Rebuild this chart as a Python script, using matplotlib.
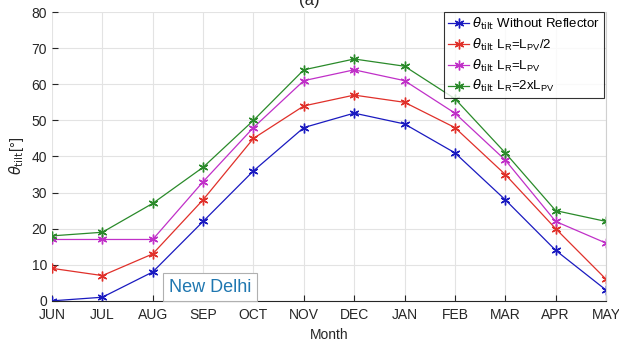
import matplotlib
matplotlib.use("Agg")
import matplotlib.pyplot as plt

months = ["JUN", "JUL", "AUG", "SEP", "OCT", "NOV", "DEC", "JAN", "FEB", "MAR", "APR", "MAY"]
without_reflector = [0, 1, 8, 22, 36, 48, 52, 49, 41, 28, 14, 3]
lr_half = [9, 7, 13, 28, 45, 54, 57, 55, 48, 35, 20, 6]
lr_equal = [17, 17, 17, 33, 48, 61, 64, 61, 52, 39, 22, 16]
lr_double = [18, 19, 27, 37, 50, 64, 67, 65, 56, 41, 25, 22]
yticks = [0, 10, 20, 30, 40, 50, 60, 70, 80]

plt.rcParams['font.family'] = ['Liberation Sans', 'DejaVu Sans']
plt.rcParams['mathtext.fontset'] = 'dejavusans'

fig = plt.figure(figsize=(6.19, 3.45), dpi=100)
ax = fig.add_axes([0.084, 0.128, 0.895, 0.837])
x = list(range(len(months)))

series = [
    (without_reflector, '#1a1ac0', r'$\theta_{\mathrm{tilt}}$ Without Reflector'),
    (lr_half, '#e0302a', r'$\theta_{\mathrm{tilt}}$ $\mathregular{L_R}$=$\mathregular{L_{PV}/2}$'),
    (lr_equal, '#c030c8', r'$\theta_{\mathrm{tilt}}$ $\mathregular{L_R}$=$\mathregular{L_{PV}}$'),
    (lr_double, '#2a8a2a', r'$\theta_{\mathrm{tilt}}$ $\mathregular{L_R}$=2x$\mathregular{L_{PV}}$'),
]
for vals, col, lab in series:
    ax.plot(x, vals, color=col, marker=(6, 2, 0), markersize=7, markeredgewidth=1.0,
            linewidth=0.9, label=lab)

ax.set_xlim(0, len(months) - 1)
ax.set_ylim(0, 80)
ax.set_xticks(x)
ax.set_xticklabels(months)
ax.set_yticks(yticks)
ax.grid(True, color='#e3e3e3', linewidth=0.8)
ax.set_axisbelow(True)
ax.tick_params(direction='in', length=4, colors='#262626', labelsize=10, labelcolor='#262626')
ax.tick_params(axis='x', pad=5)
for s in ax.spines.values():
    s.set_color('#d0d0d0')
ax.spines['bottom'].set_color('#262626')
ax.spines['left'].set_visible(False)
ax.spines['top'].set_visible(False)

ax.set_xlabel('Month', fontsize=10, color='#262626')
ax.xaxis.set_label_coords(0.5, -0.095)
ax.set_ylabel(r'$\theta_{\mathrm{tilt}}$[°]', fontsize=10.5, color='#262626', labelpad=4)

leg = ax.legend(loc='upper right', fontsize=9.5, frameon=True, fancybox=False,
                edgecolor='black', handlelength=1.6, handletextpad=0.25,
                borderpad=0.3, labelspacing=0.35, borderaxespad=0.0,
                bbox_to_anchor=(0.997, 1.0))
leg.get_frame().set_linewidth(0.8)

ax.text(2.32, 2.5, 'New Delhi', fontsize=13, color='#1f77b0',
        bbox=dict(boxstyle='square,pad=0.3', facecolor='white', edgecolor='#b0b0b0', linewidth=0.8))

fig.text(0.5, 1.0, '(a)', ha='center', va='center', fontsize=12, color='#262626')

fig.savefig('out.png', dpi=100)
